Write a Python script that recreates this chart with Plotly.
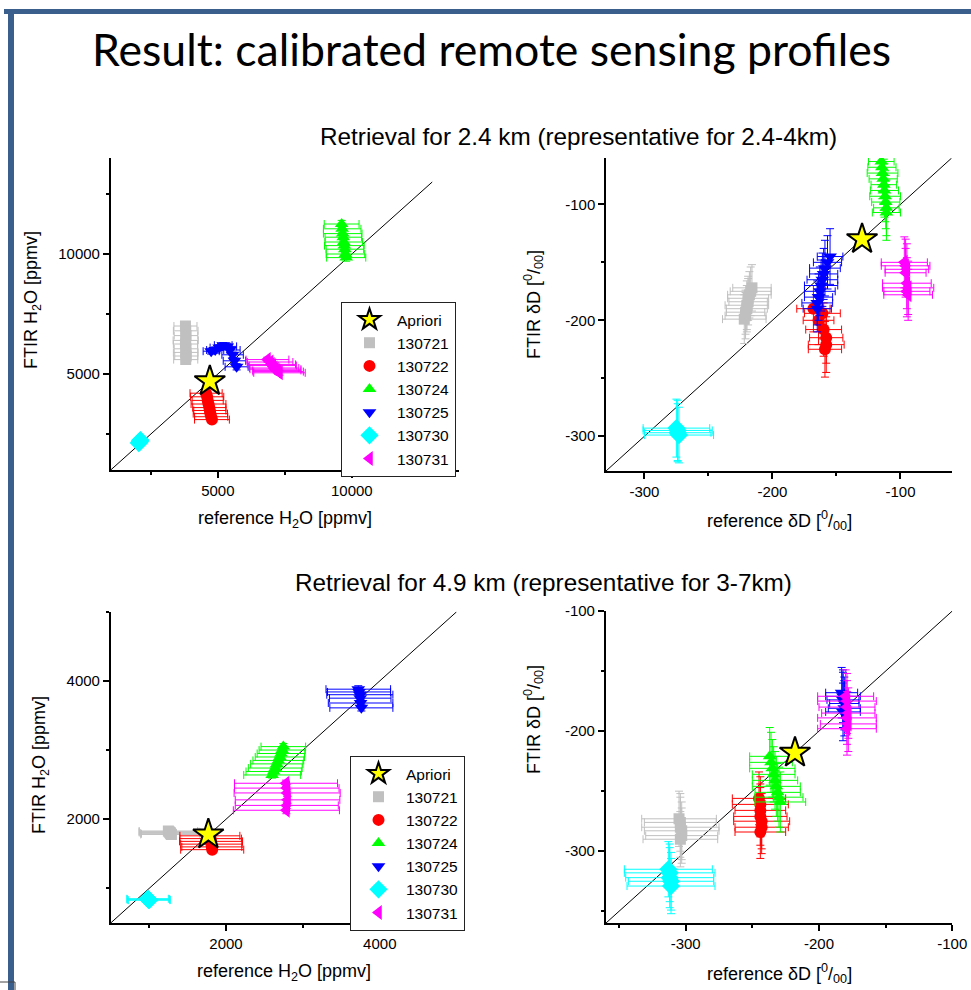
import plotly.graph_objects as go

W, H = 971, 990
FONT = "Liberation Sans, Arial, sans-serif"

# ---------------- series definitions ----------------
dates = ["130721", "130722", "130724", "130725", "130730", "130731"]
colors = ["#c0c0c0", "#ff0000", "#00ff00", "#0000ff", "#00ffff", "#ff00ff"]
symbols = ["square", "circle", "triangle-up", "triangle-down", "diamond", "triangle-left"]
marker_sizes = [11, 12, 12, 12, 14, 13]

# ---------------- H2O, retrieval for 2.4 km ----------------
h2o24_ref = [
    [3790, 3800, 3810, 3800, 3790, 3810, 3800, 3820, 3800],
    [4560, 4600, 4620, 4650, 4680, 4700, 4720, 4750, 4780],
    [9620, 9640, 9660, 9680, 9700, 9720, 9740, 9760, 9790],
    [4750, 4900, 5050, 5200, 5350, 5450, 5550, 5620, 5700],
    [2050, 2070, 2090, 2100, 2110],
    [6850, 6950, 7000, 7050, 7100, 7150, 7200, 7250, 7300],
]
h2o24_ftir = [
    [7000, 6800, 6600, 6400, 6250, 6050, 5900, 5750, 5600],
    [4200, 4050, 3900, 3750, 3600, 3480, 3350, 3220, 3100],
    [11250, 11050, 10850, 10700, 10500, 10350, 10200, 10000, 9850],
    [5950, 6000, 6100, 6200, 6150, 6000, 5800, 5550, 5300],
    [2120, 2160, 2190, 2220, 2250],
    [5600, 5500, 5400, 5350, 5250, 5200, 5150, 5100, 5050],
]
h2o24_ref_err = [
    [430, 460, 440, 470, 450, 440, 460, 430, 450],
    [600, 620, 580, 650, 620, 600, 640, 620, 650],
    [650, 700, 720, 680, 700, 740, 700, 720, 730],
    [300, 320, 340, 330, 350, 380, 400, 420, 430],
    [90, 100, 110, 100, 90],
    [800, 850, 900, 880, 920, 950, 900, 940, 960],
]
h2o24_ftir_err = [
    [110, 130, 120, 140, 120, 110, 130, 120, 140],
    [100, 110, 120, 100, 110, 120, 100, 110, 120],
    [150, 160, 140, 150, 160, 150, 140, 160, 150],
    [120, 130, 120, 110, 130, 120, 110, 120, 130],
    [70, 80, 80, 70, 80],
    [100, 110, 100, 120, 110, 100, 110, 120, 100],
]
h2o24_apriori = [4700, 4700]

# ---------------- deltaD, retrieval for 2.4 km ----------------
dd24_ref = [
    [-216, -217, -218, -219, -219, -220, -220, -221, -221, -222],
    [-168, -161, -164, -160, -158, -158, -159],
    [-115, -114.5, -114, -113.5, -113, -112.5, -112, -111.5, -111, -111],
    [-155, -157, -159, -160, -161, -162, -163, -164, -165, -165],
    [-275, -274, -274, -273],
    [-97, -96, -95, -96, -95, -94, -95, -94],
]
dd24_ftir = [
    [-172, -175, -178, -181, -184, -187, -190, -193, -196, -199],
    [-190, -194, -200, -208, -215, -221, -225],
    [-63, -68, -73, -78, -83, -88, -93, -98, -103, -107],
    [-145, -150, -155, -160, -165, -170, -175, -180, -185, -190],
    [-293, -295, -297, -299],
    [-150, -153, -156, -159, -168, -172, -175, -178],
]
dd24_ref_err = [
    [15, 16, 17, 16, 15, 17, 16, 15, 16, 17],
    [13, 14, 12, 14, 13, 14, 13],
    [10, 11, 12, 11, 10, 11, 12, 11, 10, 11],
    [10, 11, 12, 11, 12, 13, 12, 11, 12, 11],
    [26, 27, 26, 27],
    [18, 19, 17, 16, 19, 20, 18, 19],
]
dd24_ftir_err = [
    [20, 21, 20, 19, 20, 21, 20, 19, 20, 21],
    [20, 22, 21, 23, 22, 24, 24],
    [20, 21, 22, 21, 22, 23, 22, 23, 24, 24],
    [24, 23, 24, 22, 23, 22, 21, 20, 19, 20],
    [25, 26, 25, 24],
    [22, 23, 22, 21, 22, 23, 22, 22],
]
dd24_apriori = [-130, -130]

# ---------------- H2O, retrieval for 4.9 km ----------------
h2o49_ref = [
    [1250, 1260, 1270, 1275, 1280, 1290],
    [1790, 1800, 1805, 1810, 1815, 1820],
    [2745, 2730, 2715, 2700, 2680, 2660, 2640, 2620, 2600],
    [3720, 3730, 3740, 3745, 3750, 3760],
    [980, 990, 995, 1000],
    [2780, 2790, 2795, 2800, 2790, 2785],
]
h2o49_ftir = [
    [1830, 1820, 1810, 1800, 1790, 1780],
    [1760, 1720, 1680, 1640, 1600, 1560],
    [3050, 3000, 2950, 2900, 2850, 2800, 2740, 2690, 2640],
    [3880, 3840, 3800, 3750, 3680, 3610],
    [850, 845, 835, 830],
    [2520, 2450, 2380, 2280, 2200, 2130],
]
h2o49_ref_err = [
    [380, 390, 400, 390, 380, 400],
    [390, 400, 410, 400, 390, 410],
    [290, 300, 310, 320, 330, 340, 350, 360, 370],
    [420, 410, 430, 400, 420, 410],
    [270, 275, 280, 270],
    [670, 680, 690, 680, 670, 690],
]
h2o49_ftir_err = [
    [40, 45, 40, 45, 40, 45],
    [45, 40, 45, 40, 45, 40],
    [45, 50, 45, 50, 45, 50, 45, 50, 45],
    [50, 45, 50, 45, 50, 45],
    [35, 40, 35, 40],
    [45, 50, 45, 50, 45, 50],
]
h2o49_apriori = [1770, 1780]

# ---------------- deltaD, retrieval for 4.9 km ----------------
dd49_ref = [
    [-305, -304, -304, -303, -303, -304],
    [-245, -244, -244, -244, -243, -243, -244],
    [-237, -236, -235, -234, -233, -232, -231, -230, -229],
    [-183, -182, -182, -181, -181, -182],
    [-313, -312, -312, -311, -311],
    [-180, -179, -179, -178, -179, -178, -179],
]
dd49_ftir = [
    [-273, -276, -280, -283, -287, -290],
    [-256, -261, -266, -271, -275, -280, -284],
    [-221, -226, -231, -236, -241, -246, -251, -255, -259],
    [-168, -171, -174, -177, -181, -184],
    [-315, -318, -322, -325, -329],
    [-171, -175, -180, -185, -189, -194, -198],
]
dd49_ref_err = [
    [28, 27, 29, 28, 27, 28],
    [20, 21, 19, 20, 21, 20, 19],
    [15, 16, 17, 16, 17, 18, 17, 18, 19],
    [12, 13, 12, 11, 12, 13],
    [33, 34, 33, 32, 33],
    [21, 22, 21, 20, 22, 21, 22],
]
dd49_ftir_err = [
    [23, 24, 25, 24, 23, 23],
    [22, 23, 22, 24, 23, 22, 22],
    [24, 25, 24, 23, 24, 25, 24, 25, 25],
    [21, 22, 23, 22, 23, 24],
    [23, 24, 25, 24, 23],
    [22, 23, 22, 21, 22, 23, 22],
]
dd49_apriori = [-218, -218]

# 1:1 reference lines and axis ranges
h2o24_diag = [1000, 13000]
dd24_diag = [-330, -60]
h2o49_diag = [500, 5000]
dd49_diag = [-360, -100]

h2o24_range = [1000, 14000]
dd24_range = [-330, -60]
h2o49_range = [500, 5000]
dd49_range = [-360, -100]

h2o24_ticks = [5000, 10000]
h2o24_minor = [2500, 7500, 12500]
dd24_ticks = [-300, -200, -100]
dd24_minor = [-250, -150]
h2o49_ticks = [2000, 4000]
h2o49_minor = [1000, 3000, 5000]
dd49_ticks = [-300, -200, -100]
dd49_minor = [-350, -250, -150]


def px(x):
    return x / W


def py(y):
    return 1 - y / H


fig = go.Figure()

panels = [
    # (ref, ftir, ref_err, ftir_err, apriori, diag, xaxis, yaxis, legend)
    (h2o24_ref, h2o24_ftir, h2o24_ref_err, h2o24_ftir_err, h2o24_apriori, h2o24_diag, "x", "y", "legend"),
    (dd24_ref, dd24_ftir, dd24_ref_err, dd24_ftir_err, dd24_apriori, dd24_diag, "x2", "y2", None),
    (h2o49_ref, h2o49_ftir, h2o49_ref_err, h2o49_ftir_err, h2o49_apriori, h2o49_diag, "x3", "y3", "legend2"),
    (dd49_ref, dd49_ftir, dd49_ref_err, dd49_ftir_err, dd49_apriori, dd49_diag, "x4", "y4", None),
]

for ref, ftir, ref_err, ftir_err, apr, diag, xa, ya, leg in panels:
    fig.add_trace(go.Scatter(
        x=diag, y=diag, mode="lines", xaxis=xa, yaxis=ya,
        line=dict(color="black", width=1), showlegend=False, hoverinfo="skip"))
    for i, d in enumerate(dates):
        kw = dict(legend=leg, showlegend=True) if leg else dict(showlegend=False)
        fig.add_trace(go.Scatter(
            x=ref[i], y=ftir[i], mode="markers", name=d, xaxis=xa, yaxis=ya,
            marker=dict(symbol=symbols[i], size=marker_sizes[i], color=colors[i]),
            error_x=dict(type="data", array=ref_err[i], color=colors[i], thickness=1, width=4),
            error_y=dict(type="data", array=ftir_err[i], color=colors[i], thickness=1, width=4),
            **kw))
    kw = dict(legend=leg, showlegend=True, legendrank=1) if leg else dict(showlegend=False)
    fig.add_trace(go.Scatter(
        x=[apr[0]], y=[apr[1]], mode="markers", name="Apriori", xaxis=xa, yaxis=ya,
        marker=dict(symbol="star", size=23, color="#ffff00", line=dict(color="black", width=2)),
        **kw))


def axis(domain, anchor, rng, ticks, minor):
    return dict(
        domain=domain, anchor=anchor, range=rng,
        tickmode="array", tickvals=ticks, ticktext=[str(t) for t in ticks],
        showline=True, linecolor="black", linewidth=1.5,
        ticks="outside", ticklen=6, tickwidth=1.5, tickcolor="black",
        minor=dict(ticks="outside", ticklen=3, tickwidth=1.5, tickcolor="black",
                   tickmode="array", tickvals=minor),
        showgrid=False, zeroline=False, automargin=False,
        tickfont=dict(family=FONT, size=15, color="black"),
    )


legend_style = dict(
    xanchor="left", yanchor="top", bgcolor="white", bordercolor="#222222", borderwidth=1,
    font=dict(family=FONT, size=15.5, color="black"), itemwidth=45, tracegroupgap=0,
)

fig.update_layout(
    width=W, height=H, margin=dict(l=0, r=0, t=0, b=0),
    paper_bgcolor="white", plot_bgcolor="white",
    font=dict(family=FONT, color="black"),
    xaxis=axis([px(110.7), px(459)], "y", h2o24_range, h2o24_ticks, h2o24_minor),
    yaxis=axis([py(470), py(158)], "x", h2o24_range, h2o24_ticks, h2o24_minor),
    xaxis2=axis([px(606), px(951.7)], "y2", dd24_range, dd24_ticks, dd24_minor),
    yaxis2=axis([py(471), py(158)], "x2", dd24_range, dd24_ticks, dd24_minor),
    xaxis3=axis([px(110.7), px(456.7)], "y3", h2o49_range, h2o49_ticks, h2o49_minor),
    yaxis3=axis([py(923), py(611.7)], "x3", h2o49_range, h2o49_ticks, h2o49_minor),
    xaxis4=axis([px(605.7), px(952.3)], "y4", dd49_range, dd49_ticks, dd49_minor),
    yaxis4=axis([py(923.3), py(611)], "x4", dd49_range, dd49_ticks, dd49_minor),
    legend=dict(x=px(341), y=py(302), **legend_style),
    legend2=dict(x=px(350), y=py(756), **legend_style),
)

h2o_ref_lbl = "reference H<sub>2</sub>O [ppmv]"
h2o_ftir_lbl = "FTIR H<sub>2</sub>O [ppmv]"
dd_ref_lbl = "reference \u03b4D [<sup>0</sup>/<sub>00</sub>]"
dd_ftir_lbl = "FTIR \u03b4D [<sup>0</sup>/<sub>00</sub>]"

annotations = [
    dict(text="Result: calibrated remote sensing profiles", x=px(491), y=py(49),
         font=dict(family="Lato, Open Sans, sans-serif", size=44.6, color="black")),
    dict(text="Retrieval for 2.4 km (representative for 2.4-4km)", x=px(578), y=py(136),
         font=dict(family=FONT, size=24.3, color="black")),
    dict(text="Retrieval for 4.9 km (representative for 3-7km)", x=px(543), y=py(582),
         font=dict(family=FONT, size=24.3, color="black")),
    dict(text=h2o_ref_lbl, x=px(285), y=py(519), font=dict(family=FONT, size=18)),
    dict(text=h2o_ftir_lbl, x=px(33), y=py(300), textangle=-90, font=dict(family=FONT, size=18)),
    dict(text=dd_ref_lbl, x=px(779), y=py(520), font=dict(family=FONT, size=18)),
    dict(text=dd_ftir_lbl, x=px(533), y=py(305), textangle=-90, font=dict(family=FONT, size=18)),
    dict(text=h2o_ref_lbl, x=px(284), y=py(972), font=dict(family=FONT, size=18)),
    dict(text=h2o_ftir_lbl, x=px(40), y=py(765), textangle=-90, font=dict(family=FONT, size=18)),
    dict(text=dd_ref_lbl, x=px(779), y=py(973), font=dict(family=FONT, size=18)),
    dict(text=dd_ftir_lbl, x=px(533), y=py(720), textangle=-90, font=dict(family=FONT, size=18)),
]
for a in annotations:
    a.update(xref="paper", yref="paper", xanchor="center", yanchor="middle", showarrow=False)
    a["font"].setdefault("color", "black")
fig.update_layout(annotations=annotations)

# slide frame
frame_blue = "#3b5f8c"
fig.update_layout(shapes=[
    dict(type="rect", xref="paper", yref="paper", x0=px(4), x1=1, y0=py(14), y1=py(9),
         fillcolor=frame_blue, line=dict(width=0)),
    dict(type="rect", xref="paper", yref="paper", x0=px(8), x1=px(14), y0=0, y1=py(9),
         fillcolor=frame_blue, line=dict(width=0)),
    dict(type="line", xref="paper", yref="paper", x0=0, x1=px(15), y0=py(982), y1=py(982),
         line=dict(color="#444444", width=1)),
    dict(type="line", xref="paper", yref="paper", x0=px(15), x1=px(15), y0=py(982), y1=0,
         line=dict(color="#444444", width=1)),
])

fig.write_html("out.html")
